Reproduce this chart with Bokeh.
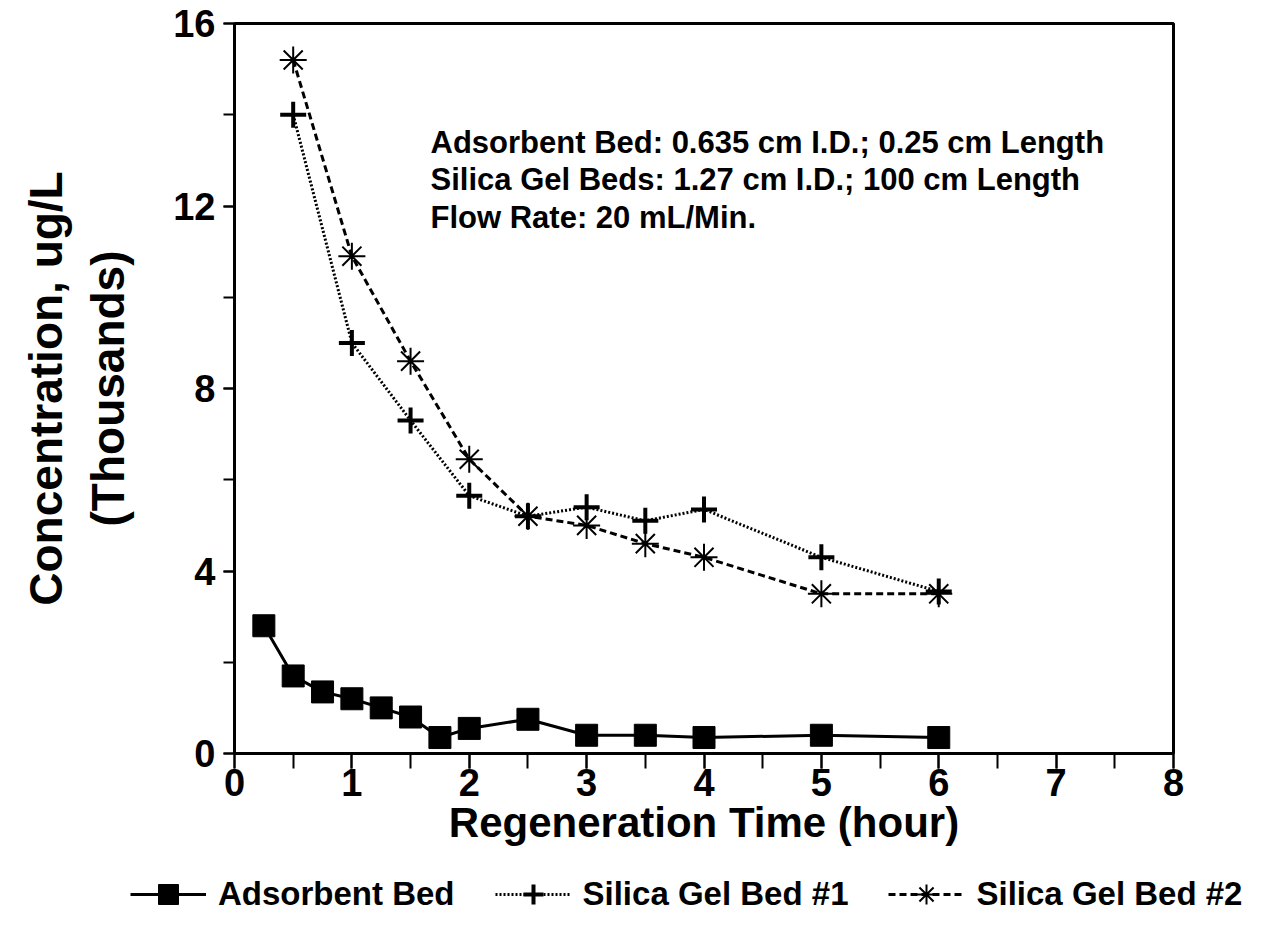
from bokeh.plotting import figure
from bokeh.layouts import column
from bokeh.models import (Range1d, SingleIntervalTicker, Legend, LegendItem, Label)
from bokeh.embed import file_html
from bokeh.resources import INLINE

# ---- data ----
ads_x = [0.25, 0.5, 0.75, 1.0, 1.25, 1.5, 1.75, 2.0, 2.5, 3.0, 3.5, 4.0, 5.0, 6.0]
ads_y = [2.8, 1.7, 1.35, 1.2, 1.0, 0.8, 0.35, 0.55, 0.75, 0.4, 0.4, 0.35, 0.4, 0.35]

sg1_x = [0.5, 1.0, 1.5, 2.0, 2.5, 3.0, 3.5, 4.0, 5.0, 6.0]
sg1_y = [14.0, 9.0, 7.3, 5.65, 5.2, 5.4, 5.1, 5.35, 4.3, 3.55]

sg2_x = [0.5, 1.0, 1.5, 2.0, 2.5, 3.0, 3.5, 4.0, 5.0, 6.0]
sg2_y = [15.2, 10.9, 8.6, 6.45, 5.2, 5.0, 4.6, 4.3, 3.5, 3.5]

series_labels = ["Adsorbent Bed", "Silica Gel Bed #1", "Silica Gel Bed #2"]
note_lines = [
    "Adsorbent Bed: 0.635 cm I.D.; 0.25 cm Length",
    "Silica Gel Beds: 1.27 cm I.D.; 100 cm Length",
    "Flow Rate: 20 mL/Min.",
]
x_title = "Regeneration Time (hour)"
y_title = "Concentration, ug/L\n(Thousands)"

FONT = "Liberation Sans"

# styles for the three series
STY = [
    dict(line_width=3, line_dash="solid", marker="square", size=22, lw=1),
    dict(line_width=3, line_dash="2 2", marker="cross", size=26, lw=4),
    dict(line_width=3, line_dash="7 4", marker="asterisk", size=27, lw=2),
]

p = figure(frame_width=939, frame_height=730, output_backend="svg", toolbar_location=None,
           x_range=Range1d(0, 8), y_range=Range1d(0, 16),
           min_border_left=234, min_border_right=84, min_border_top=23, min_border_bottom=110)

p.xgrid.visible = False
p.ygrid.visible = False
p.outline_line_color = "black"
p.outline_line_width = 3
p.outline_line_alpha = 1
p.background_fill_color = "white"
p.border_fill_color = "white"

# axes
p.xaxis.ticker = SingleIntervalTicker(interval=1, num_minor_ticks=2)
p.yaxis.ticker = SingleIntervalTicker(interval=4, num_minor_ticks=2)
for ax in (p.xaxis[0], p.yaxis[0]):
    ax.axis_line_width = 3
    ax.axis_line_color = "black"
    ax.major_tick_line_width = 2
    ax.minor_tick_line_width = 2
    ax.major_tick_line_color = "black"
    ax.minor_tick_line_color = "black"
    ax.major_tick_in = 0
    ax.minor_tick_in = 0
    ax.major_label_text_font = FONT
    ax.major_label_text_font_style = "bold"
    ax.major_label_text_color = "black"
    ax.axis_label_text_font = FONT
    ax.axis_label_text_font_style = "bold"
    ax.axis_label_text_color = "black"

p.xaxis.major_tick_out = 15
p.xaxis.minor_tick_out = 15
p.xaxis.major_label_text_font_size = "38px"
p.xaxis.major_label_standoff = 0
p.xaxis.axis_label = x_title
p.xaxis.axis_label_text_font_size = "42px"
p.xaxis.axis_label_standoff = 0

p.yaxis.major_tick_out = 11
p.yaxis.minor_tick_out = 11
p.yaxis.major_label_text_font_size = "38px"
p.yaxis.major_label_standoff = 8
p.yaxis.axis_label = y_title
p.yaxis.axis_label_text_font_size = "46px"
p.yaxis.axis_label_standoff = 36

# series
data = [(ads_x, ads_y), (sg1_x, sg1_y), (sg2_x, sg2_y)]
for (xs, ys), s in zip(data, STY):
    p.line(xs, ys, line_color="black", line_width=s["line_width"], line_dash=s["line_dash"])
    p.scatter(xs, ys, marker=s["marker"], size=s["size"], fill_color="black",
              line_color="black", line_width=s["lw"])

# annotation block
note_y = [13.39, 12.58, 11.75]
for txt, yy in zip(note_lines, note_y):
    p.add_layout(Label(x=1.67, y=yy, text=txt, text_font=FONT, text_font_style="bold",
                       text_font_size="31px", text_color="black", text_baseline="middle",
                       text_align="left"))

# ---- legend strip (separate figure so the legend is not clipped by the plot frame) ----
# the series are re-plotted here only to feed the legend; the y range keeps them out of view
pl = figure(width=1257, height=62, output_backend="svg", toolbar_location=None,
            x_axis_type=None, y_axis_type=None, min_border=0,
            x_range=Range1d(0, 8), y_range=Range1d(100, 101))
pl.frame_align = False
pl.outline_line_color = None
pl.background_fill_color = "white"
pl.border_fill_color = "white"

items = []
for lab, (xs, ys), s in zip(series_labels, data, STY):
    lr = pl.line(xs, ys, line_color="black", line_width=s["line_width"], line_dash=s["line_dash"])
    mr = pl.scatter(xs, ys, marker=s["marker"], fill_color="black", line_color="black",
                    line_width=s["lw"])
    items.append(LegendItem(label=lab, renderers=[lr, mr]))

legend = Legend(items=items, orientation="horizontal", location=(130, 6))
legend.label_text_font = FONT
legend.label_text_font_style = "bold"
legend.label_text_font_size = "33px"
legend.label_text_color = "black"
legend.glyph_width = 76
legend.glyph_height = 50
legend.label_standoff = 12
legend.spacing = 40
legend.padding = 0
legend.margin = 0
legend.border_line_color = None
legend.background_fill_alpha = 0
pl.add_layout(legend, "center")

layout = column(p, pl, spacing=0)
open("out.html", "w").write(file_html(layout, INLINE))
